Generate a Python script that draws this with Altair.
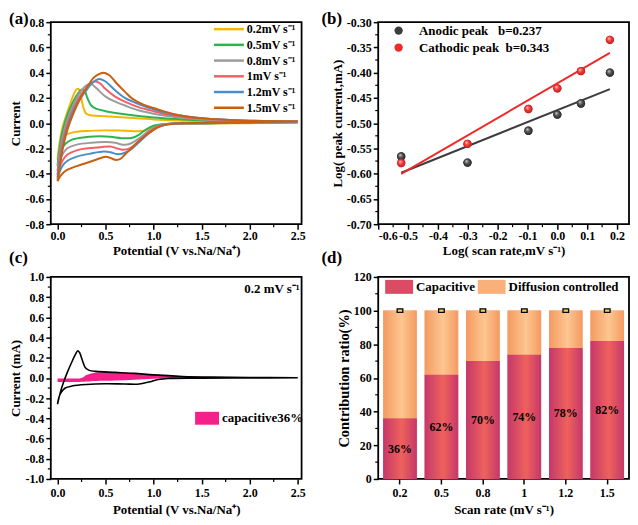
import altair as alt
import pandas as pd

FONT = "Liberation Serif"
W, H = 252, 203

# ---------------- (a) CV curves at different scan rates ----------------
RATE_LABELS = ["0.2mV s⁻¹", "0.5mV s⁻¹", "0.8mV s⁻¹", "1mV s⁻¹", "1.2mV s⁻¹", "1.5mV s⁻¹"]
RATE_COLORS = ["#f2b705", "#2db34f", "#9b9b9b", "#f45f67", "#4b8fc9", "#c9600f"]

CV02_UP_X = [0.0, 0.02, 0.05, 0.09, 0.13, 0.17, 0.20, 0.22, 0.245, 0.27, 0.30, 0.35, 0.5, 0.7, 1.0, 1.3, 1.6, 2.0, 2.5]
CV02_UP_Y = [-0.29, -0.16, -0.04, 0.06, 0.15, 0.23, 0.27, 0.27, 0.21, 0.12, 0.075, 0.062, 0.055, 0.045, 0.03, 0.02, 0.012, 0.008, 0.005]
CV02_DN_X = [2.5, 2.0, 1.5, 1.1, 1.0, 0.93, 0.85, 0.7, 0.5, 0.3, 0.15, 0.08, 0.04, 0.015, 0.0]
CV02_DN_Y = [0.005, 0.0, -0.003, -0.008, -0.025, -0.055, -0.063, -0.06, -0.057, -0.062, -0.075, -0.095, -0.13, -0.2, -0.29]

CV05_UP_X = [0.0, 0.02, 0.05, 0.1, 0.15, 0.2, 0.25, 0.28, 0.31, 0.35, 0.4, 0.5, 0.7, 1.0, 1.3, 1.6, 2.0, 2.5]
CV05_UP_Y = [-0.34, -0.2, -0.07, 0.06, 0.15, 0.22, 0.265, 0.26, 0.2, 0.14, 0.115, 0.095, 0.07, 0.045, 0.03, 0.018, 0.01, 0.006]
CV05_DN_X = [2.5, 2.0, 1.5, 1.1, 1.0, 0.92, 0.85, 0.78, 0.7, 0.5, 0.3, 0.15, 0.08, 0.04, 0.015, 0.0]
CV05_DN_Y = [0.006, 0.002, -0.002, -0.008, -0.02, -0.05, -0.09, -0.115, -0.12, -0.105, -0.11, -0.13, -0.165, -0.21, -0.27, -0.34]

CV08_UP_X = [0.0, 0.02, 0.05, 0.1, 0.15, 0.2, 0.25, 0.3, 0.35, 0.4, 0.5, 0.6, 0.7, 0.85, 1.0, 1.2, 1.5, 2.0, 2.5]
CV08_UP_Y = [-0.38, -0.25, -0.12, 0.02, 0.12, 0.2, 0.26, 0.30, 0.31, 0.28, 0.21, 0.17, 0.14, 0.1, 0.075, 0.05, 0.03, 0.015, 0.01]
CV08_DN_X = [2.5, 2.0, 1.5, 1.15, 1.05, 0.95, 0.85, 0.75, 0.68, 0.6, 0.5, 0.35, 0.2, 0.1, 0.05, 0.02, 0.0]
CV08_DN_Y = [0.01, 0.004, 0.0, -0.005, -0.02, -0.06, -0.12, -0.165, -0.17, -0.155, -0.15, -0.155, -0.17, -0.2, -0.25, -0.31, -0.38]

CV10_UP_X = [0.0, 0.02, 0.05, 0.1, 0.15, 0.2, 0.25, 0.3, 0.35, 0.4, 0.45, 0.5, 0.6, 0.7, 0.85, 1.0, 1.2, 1.5, 2.0, 2.5]
CV10_UP_Y = [-0.41, -0.28, -0.15, -0.01, 0.09, 0.17, 0.23, 0.28, 0.32, 0.33, 0.31, 0.27, 0.21, 0.17, 0.125, 0.095, 0.06, 0.035, 0.018, 0.012]
CV10_DN_X = [2.5, 2.0, 1.5, 1.15, 1.05, 0.95, 0.85, 0.75, 0.68, 0.62, 0.55, 0.45, 0.3, 0.2, 0.1, 0.05, 0.02, 0.0]
CV10_DN_Y = [0.012, 0.005, 0.0, -0.006, -0.025, -0.07, -0.14, -0.2, -0.21, -0.2, -0.185, -0.19, -0.2, -0.215, -0.25, -0.3, -0.35, -0.41]

CV12_UP_X = [0.0, 0.02, 0.05, 0.1, 0.15, 0.2, 0.25, 0.3, 0.35, 0.4, 0.44, 0.5, 0.6, 0.7, 0.85, 1.0, 1.2, 1.5, 2.0, 2.5]
CV12_UP_Y = [-0.43, -0.32, -0.19, -0.04, 0.07, 0.15, 0.21, 0.26, 0.31, 0.34, 0.35, 0.33, 0.26, 0.2, 0.15, 0.11, 0.07, 0.04, 0.02, 0.013]
CV12_DN_X = [2.5, 2.0, 1.5, 1.15, 1.05, 0.95, 0.85, 0.75, 0.68, 0.62, 0.55, 0.48, 0.35, 0.2, 0.1, 0.05, 0.02, 0.0]
CV12_DN_Y = [0.013, 0.006, 0.0, -0.006, -0.03, -0.08, -0.15, -0.215, -0.24, -0.245, -0.23, -0.225, -0.24, -0.265, -0.3, -0.34, -0.39, -0.44]

CV15_UP_X = [0.0, 0.02, 0.05, 0.1, 0.17, 0.22, 0.27, 0.32, 0.37, 0.42, 0.48, 0.54, 0.61, 0.7, 0.785, 0.9, 1.0, 1.25, 1.5, 2.0, 2.5]
CV15_UP_Y = [-0.46, -0.36, -0.22, -0.06, 0.085, 0.17, 0.24, 0.3, 0.355, 0.385, 0.40, 0.38, 0.32, 0.25, 0.19, 0.145, 0.12, 0.065, 0.04, 0.02, 0.015]
CV15_DN_X = [2.5, 2.0, 1.5, 1.2, 1.05, 0.95, 0.85, 0.78, 0.7, 0.65, 0.6, 0.55, 0.5, 0.4, 0.3, 0.2, 0.1, 0.05, 0.02, 0.0]
CV15_DN_Y = [0.015, 0.008, 0.002, -0.005, -0.03, -0.08, -0.14, -0.19, -0.25, -0.285, -0.29, -0.275, -0.265, -0.29, -0.315, -0.34, -0.37, -0.4, -0.43, -0.46]

# ---------------- (b) log(peak current) vs log(scan rate) ----------------
B_LOGV = [-0.523, -0.301, -0.097, 0.0, 0.079, 0.176]
B_ANODIC = [-0.566, -0.578, -0.515, -0.483, -0.461, -0.400]
B_CATHODIC = [-0.579, -0.541, -0.472, -0.431, -0.397, -0.335]
B_SERIES = ["Anodic peak\u00a0\u00a0\u00a0b=0.237", "Cathodic peak\u00a0\u00a0b=0.343"]
B_COLORS = ["#3d3d3d", "#ee2a2a"]

# ---------------- (c) CV at 0.2 mV/s with capacitive part ----------------
C_UP_X = [0.0, 0.03, 0.06, 0.1, 0.15, 0.19, 0.21, 0.23, 0.26, 0.29, 0.33, 0.4, 0.6, 0.8, 1.0, 1.3, 1.6, 2.0, 2.5]
C_UP_Y = [-0.26, -0.14, -0.05, 0.05, 0.16, 0.24, 0.27, 0.25, 0.17, 0.1, 0.075, 0.065, 0.055, 0.045, 0.03, 0.015, 0.008, 0.004, 0.002]
C_DN_X = [2.5, 2.0, 1.5, 1.15, 1.05, 0.95, 0.85, 0.7, 0.5, 0.3, 0.15, 0.08, 0.04, 0.015, 0.0]
C_DN_Y = [0.002, 0.0, -0.002, -0.005, -0.015, -0.04, -0.06, -0.06, -0.058, -0.065, -0.08, -0.1, -0.14, -0.19, -0.26]
CAP_X = [0.0, 0.1, 0.2, 0.25, 0.3, 0.35, 0.4, 0.5, 0.6, 0.8, 1.0, 1.2, 1.5, 1.7, 2.0, 2.5]
CAP_UP = [-0.005, -0.005, -0.005, 0.0, 0.03, 0.045, 0.055, 0.06, 0.058, 0.048, 0.035, 0.022, 0.012, 0.008, 0.005, 0.003]
CAP_LO = [-0.04, -0.04, -0.04, -0.038, -0.035, -0.032, -0.03, -0.028, -0.025, -0.018, -0.008, -0.003, -0.001, 0.0, 0.0, 0.0]
CAP_LABEL = "capacitive36%"
CAP_COLOR = "#f5208a"

# ---------------- (d) contribution ratio ----------------
D_RATES = ["0.2", "0.5", "0.8", "1", "1.2", "1.5"]
D_CAP = [36, 62, 70, 74, 78, 82]
D_TOTAL = [100, 100, 100, 100, 100, 100]
D_SERIES = ["Capacitive", "Diffusion controlled"]
D_LEG_COLORS = ["#dc4a64", "#f9b07a"]


def fmt_expr(spec):
    return f"replace(format(datum.value, '{spec}'), '\u2212', '-')"


def minor_x(vals, scale, axis, field="x"):
    return alt.Chart(pd.DataFrame({field: vals})).mark_rule(color="black", strokeWidth=1.2).encode(
        x=alt.X(f"{field}:Q", scale=scale, axis=axis), y=alt.value(H), y2=alt.value(H + 3))


def minor_y(vals, scale, axis, field="y"):
    return alt.Chart(pd.DataFrame({field: vals})).mark_rule(color="black", strokeWidth=1.2).encode(
        y=alt.Y(f"{field}:Q", scale=scale, axis=axis), x=alt.value(-3), x2=alt.value(0))


def panel_label(t, dx, dy):
    return alt.Chart(pd.DataFrame({"t": [t]})).mark_text(
        font=FONT, fontSize=17, fontWeight="bold", align="left", baseline="top", color="black"
    ).encode(text="t:N", x=alt.value(dx), y=alt.value(dy))


def spacer(px):
    # invisible 1-px rule that fixes the horizontal extent of a panel
    return alt.Chart(pd.DataFrame({"t": [0]})).mark_rule(opacity=0, strokeWidth=1).encode(
        x=alt.value(px), x2=alt.value(px + 1), y=alt.value(100))


# ================= panel (a) =================
rows = []
curves = [
    (CV02_UP_X, CV02_UP_Y, CV02_DN_X, CV02_DN_Y),
    (CV05_UP_X, CV05_UP_Y, CV05_DN_X, CV05_DN_Y),
    (CV08_UP_X, CV08_UP_Y, CV08_DN_X, CV08_DN_Y),
    (CV10_UP_X, CV10_UP_Y, CV10_DN_X, CV10_DN_Y),
    (CV12_UP_X, CV12_UP_Y, CV12_DN_X, CV12_DN_Y),
    (CV15_UP_X, CV15_UP_Y, CV15_DN_X, CV15_DN_Y),
]
for lab, (ux, uy, dx, dy) in zip(RATE_LABELS, curves):
    for i, (x, y) in enumerate(zip(ux + dx, uy + dy)):
        rows.append({"rate": lab, "x": x, "y": y, "i": i})
df_a = pd.DataFrame(rows)

XA = alt.Scale(domain=[-0.07, 2.54], nice=False, zero=False)
YA = alt.Scale(domain=[-0.8, 0.8], nice=False, zero=False)
x_ticks_a = [0, 0.5, 1.0, 1.5, 2.0, 2.5]
AX_A_X = alt.Axis(values=x_ticks_a, labelExpr=fmt_expr(".1f"), title="Potential (V vs.Na/Na⁺)",
                  labelPadding=1, titlePadding=3)
AX_A_Y = alt.Axis(values=[round(-0.8 + 0.2 * k, 1) for k in range(9)], labelExpr=fmt_expr(".1f"),
                  title="Current", titlePadding=2)

lines_a = alt.Chart(df_a).mark_line(strokeWidth=2, interpolate="catmull-rom").encode(
    x=alt.X("x:Q", scale=XA, axis=AX_A_X),
    y=alt.Y("y:Q", scale=YA, axis=AX_A_Y),
    color=alt.Color("rate:N", scale=alt.Scale(domain=RATE_LABELS, range=RATE_COLORS),
                    legend=alt.Legend(orient="none", legendX=170, legendY=-2, symbolType="M-2,0H2",
                                      symbolSize=225, symbolStrokeWidth=2.5, labelOffset=9,
                                      rowPadding=0.8, labelFontSize=12, title=None)),
    order="i:Q",
)
panel_a = alt.layer(
    lines_a,
    minor_x([0.25, 0.75, 1.25, 1.75, 2.25], XA, AX_A_X),
    minor_y([round(-0.7 + 0.2 * k, 1) for k in range(8)], YA, AX_A_Y),
    panel_label("(a)", -42, -11),
    panel_label("(c)", -42, H + 26),
    spacer(W + 10),
).properties(width=W, height=H)

# ================= panel (b) =================
df_b = pd.DataFrame({
    "x": B_LOGV + B_LOGV,
    "y": B_ANODIC + B_CATHODIC,
    "s": [B_SERIES[0]] * len(B_LOGV) + [B_SERIES[1]] * len(B_LOGV),
})
XB = alt.Scale(domain=[-0.6, 0.24], nice=False, zero=False)
YB = alt.Scale(domain=[-0.70, -0.30], nice=False, zero=False)
col_b = alt.Scale(domain=B_SERIES, range=B_COLORS)
AX_B_X = alt.Axis(values=[round(-0.6 + 0.1 * k, 1) for k in range(9)], labelExpr=fmt_expr(".1f"),
                  title="Log( scan rate,mV s⁻¹)", labelPadding=1, titlePadding=3)
AX_B_Y = alt.Axis(values=[round(-0.70 + 0.05 * k, 2) for k in range(9)], labelExpr=fmt_expr(".2f"),
                  title="Log( peak current,mA)", titlePadding=2)


def reg_line(series, color):
    return alt.Chart(df_b).transform_filter(alt.datum.s == series).transform_regression(
        "x", "y").mark_line(strokeWidth=2, color=color).encode(
        x=alt.X("x:Q", scale=XB, axis=AX_B_X), y=alt.Y("y:Q", scale=YB, axis=AX_B_Y))


pts_b = alt.Chart(df_b).mark_circle(size=70, opacity=1).encode(
    x=alt.X("x:Q", scale=XB, axis=AX_B_X),
    y=alt.Y("y:Q", scale=YB, axis=AX_B_Y),
    color=alt.Color("s:N", scale=col_b,
                    legend=alt.Legend(orient="none", legendX=14, legendY=2, symbolType="circle",
                                      symbolSize=70, labelOffset=14, rowPadding=3, labelFontSize=13,
                                      title=None)),
)


def sphere(light, mid, dark):
    return alt.Gradient(gradient="radial", x1=0.35, y1=0.3, r1=0.0, x2=0.5, y2=0.5, r2=0.55,
                        stops=[alt.GradientStop(color=light, offset=0),
                               alt.GradientStop(color=mid, offset=0.45),
                               alt.GradientStop(color=dark, offset=1)])


def shaded(series, grad):
    return alt.Chart(df_b).transform_filter(alt.datum.s == series).mark_circle(
        size=70, opacity=1, color=grad).encode(
        x=alt.X("x:Q", scale=XB, axis=AX_B_X), y=alt.Y("y:Q", scale=YB, axis=AX_B_Y))


panel_b = alt.layer(
    reg_line(B_SERIES[0], B_COLORS[0]), reg_line(B_SERIES[1], B_COLORS[1]),
    pts_b,
    shaded(B_SERIES[0], sphere("#d8d8d8", "#555555", "#222222")),
    shaded(B_SERIES[1], sphere("#ffd0d0", "#f24040", "#c01818")),
    minor_x([round(-0.55 + 0.1 * k, 2) for k in range(8)], XB, AX_B_X),
    minor_y([round(-0.675 + 0.05 * k, 3) for k in range(8)], YB, AX_B_Y),
    panel_label("(b)", -57, -11),
    panel_label("(d)", -57, H + 26),
).properties(width=W, height=H)

# ================= panel (c) =================
df_c = pd.DataFrame({"x": C_UP_X + C_DN_X, "y": C_UP_Y + C_DN_Y, "i": list(range(len(C_UP_X) + len(C_DN_X)))})
df_cap = pd.DataFrame({"x": CAP_X, "y": CAP_UP, "y2": CAP_LO, "lab": [CAP_LABEL] * len(CAP_X)})
YC = alt.Scale(domain=[-1.0, 1.0], nice=False, zero=False)
AX_C_X = alt.Axis(values=x_ticks_a, labelExpr=fmt_expr(".1f"), title="Potential (V vs.Na/Na⁺)",
                  labelPadding=4, titlePadding=5)
AX_C_Y = alt.Axis(values=[round(-1.0 + 0.2 * k, 1) for k in range(11)], labelExpr=fmt_expr(".1f"),
                  title="Current (mA)", titlePadding=2)

line_c = alt.Chart(df_c).mark_line(strokeWidth=1.6, color="black", interpolate="catmull-rom").encode(
    x=alt.X("x:Q", scale=XA, axis=AX_C_X),
    y=alt.Y("y:Q", scale=YC, axis=AX_C_Y),
    order="i:Q",
)
area_c = alt.Chart(df_cap).mark_area(opacity=1, interpolate="monotone").encode(
    x=alt.X("x:Q", scale=XA, axis=AX_C_X),
    y=alt.Y("y:Q", scale=YC, axis=AX_C_Y),
    y2="y2:Q",
    color=alt.Color("lab:N", scale=alt.Scale(domain=[CAP_LABEL], range=[CAP_COLOR]),
                    legend=alt.Legend(orient="none", legendX=150, legendY=135,
                                      symbolType="M-2,-1.08H2V1.08H-2Z", symbolSize=144,
                                      symbolOpacity=1, labelOffset=8, labelFontSize=13, title=None)),
)
txt_c = alt.Chart(pd.DataFrame({"x": [2.52], "y": [0.88], "t": ["0.2 mV s⁻¹"]})).mark_text(
    font=FONT, fontSize=13, fontWeight="bold", align="right", baseline="middle", color="black"
).encode(x=alt.X("x:Q", scale=XA, axis=AX_C_X), y=alt.Y("y:Q", scale=YC, axis=AX_C_Y), text="t:N")

panel_c = alt.layer(
    area_c, line_c, txt_c,
    minor_x([0.25, 0.75, 1.25, 1.75, 2.25], XA, AX_C_X),
    minor_y([round(-0.9 + 0.2 * k, 1) for k in range(10)], YC, AX_C_Y),
    spacer(W + 10),
).properties(width=W, height=H)

# ================= panel (d) =================
df_d = pd.DataFrame({"rate": D_RATES, "cap": D_CAP, "top": D_TOTAL})
df_d_long = pd.DataFrame({
    "rate": D_RATES + D_RATES,
    "y0": [0] * len(D_RATES) + D_CAP,
    "y1": D_CAP + D_TOTAL,
    "series": [D_SERIES[0]] * len(D_RATES) + [D_SERIES[1]] * len(D_RATES),
})
XD = alt.Scale(domain=D_RATES, paddingInner=0.19, paddingOuter=0.12)
YD = alt.Scale(domain=[0, 120], nice=False, zero=True)
AX_D_X = alt.Axis(labelAngle=0, title="Scan rate (mV s⁻¹)", labelPadding=4, titlePadding=5)
AX_D_Y = alt.Axis(values=[0, 20, 40, 60, 80, 100, 120], title="Contribution ratio(%)", titlePadding=2,
                  titleFontSize=14.5)


def grad_h(edge, center):
    return alt.Gradient(gradient="linear", x1=0, x2=1, y1=0, y2=0,
                        stops=[alt.GradientStop(color=edge, offset=0),
                               alt.GradientStop(color=center, offset=0.55),
                               alt.GradientStop(color=edge, offset=1)])


def xd():
    return alt.X("rate:N", scale=XD, sort=D_RATES, axis=AX_D_X)


bars_leg = alt.Chart(df_d_long).mark_bar().encode(
    x=xd(),
    y=alt.Y("y1:Q", scale=YD, axis=AX_D_Y),
    y2="y0:Q",
    color=alt.Color("series:N", scale=alt.Scale(domain=D_SERIES, range=D_LEG_COLORS),
                    legend=alt.Legend(orient="none", legendX=13, legendY=2, direction="horizontal",
                                      symbolType="M-2,-1H2V1H-2Z", symbolSize=196,
                                      labelOffset=9, columnPadding=2, labelFontSize=13, title=None)),
)
bars_cap = alt.Chart(df_d).mark_bar(color=grad_h("#c5386a", "#ef615c")).encode(
    x=xd(), y=alt.Y("cap:Q", scale=YD, axis=AX_D_Y),
)
bars_dif = alt.Chart(df_d).mark_bar(color=grad_h("#f49a62", "#fdc690")).encode(
    x=xd(), y=alt.Y("top:Q", scale=YD, axis=AX_D_Y), y2="cap:Q",
)
caps_d = alt.Chart(df_d).mark_point(shape="M-1,-0.6H1V0.6H-1Z", size=32, filled=True, fill="#f2d34a",
                                     stroke="black", strokeWidth=1.3, opacity=1).encode(
    x=xd(), y=alt.Y("top:Q", scale=YD, axis=AX_D_Y),
)
txt_d = alt.Chart(df_d).transform_calculate(mid="datum.cap / 2", lbl="datum.cap + '%'").mark_text(
    font=FONT, fontSize=12, fontWeight="bold", color="black", baseline="middle"
).encode(x=xd(), y=alt.Y("mid:Q", scale=YD, axis=AX_D_Y), text="lbl:N")

panel_d = alt.layer(
    bars_leg, bars_cap, bars_dif, caps_d, txt_d,
    minor_y([10, 30, 50, 70, 90, 110], YD, AX_D_Y),
    spacer(-57),
).properties(width=W, height=H)

row1 = alt.hconcat(panel_a, panel_b, spacing=7).resolve_scale(
    color="independent").resolve_legend(color="independent")
row2 = alt.hconcat(panel_c, panel_d, spacing=7).resolve_scale(
    color="independent").resolve_legend(color="independent")

chart = alt.vconcat(row1, row2, spacing=3).resolve_scale(
    color="independent").resolve_legend(color="independent").properties(padding=0).configure(
    font=FONT
).configure_view(
    stroke="black", strokeWidth=1.8
).configure_axis(
    labelFont=FONT, labelFontSize=12, labelFontWeight="bold", labelColor="black",
    titleFont=FONT, titleFontSize=13, titleFontWeight="bold", titleColor="black",
    domain=False, grid=False, tickColor="black", tickSize=5, tickWidth=1.5, labelPadding=2,
).configure_legend(
    labelFont=FONT, labelFontWeight="bold", labelColor="black", padding=0,
)

chart.save("out.html", embed_options={"renderer": "svg", "actions": False})
